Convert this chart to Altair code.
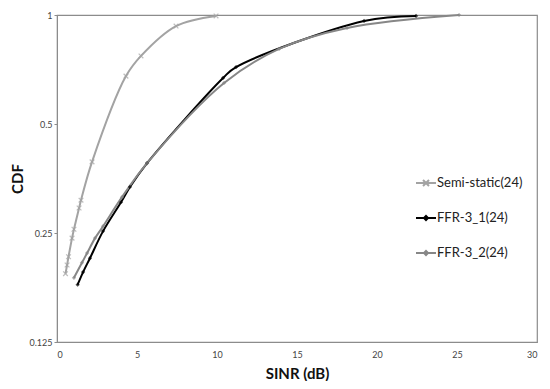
import altair as alt
import pandas as pd

series_names = ["Semi-static(24)", "FFR-3_1(24)", "FFR-3_2(24)"]

ss_x = [0.53, 0.63, 0.72, 0.94, 1.06, 1.38, 1.5, 2.19, 4.31, 5.25, 7.44, 9.94]
ss_y = [0.193, 0.204, 0.215, 0.242, 0.256, 0.293, 0.308, 0.393, 0.678, 0.771, 0.932, 0.994]

f1_x = [1.29, 1.63, 2.06, 2.88, 4.0, 4.56, 5.63, 10.38, 11.19, 19.19, 22.44]
f1_y = [0.180, 0.195, 0.213, 0.253, 0.304, 0.335, 0.390, 0.670, 0.718, 0.963, 0.994]

f2_x = [1.06, 1.56, 1.88, 2.38, 2.88, 4.06, 5.63, 10.44, 13.88, 18.13, 25.13]
f2_y = [0.188, 0.207, 0.220, 0.242, 0.261, 0.314, 0.390, 0.649, 0.806, 0.921, 1.0]

x_ticks = [0, 5, 10, 15, 20, 25, 30]
y_ticks = [0.125, 0.25, 0.5, 1]

colors = ["#a3a3a3", "#000000", "#878787"]

rows = []
for name, xs, ys in zip(series_names, [ss_x, f1_x, f2_x], [ss_y, f1_y, f2_y]):
    for i, (a, b) in enumerate(zip(xs, ys)):
        rows.append({"series": name, "x": a, "y": b, "i": i})
df = pd.DataFrame(rows)

axis_style = dict(grid=False, labelFont="Lato", titleFont="Lato", labelFontSize=9,
                  labelColor="#444", titleFontSize=15, titleFontWeight="bold",
                  titleColor="#111", domainColor="#8c8c8c", tickColor="#8c8c8c")

color_scale = alt.Scale(domain=series_names, range=colors)
xenc = alt.X("x:Q", scale=alt.Scale(domain=[0, 30], nice=False),
             axis=alt.Axis(values=x_ticks, title="SINR (dB)", ticks=False,
                           labelPadding=8, titlePadding=7, **axis_style))
yenc = alt.Y("y:Q", scale=alt.Scale(type="log", base=2, domain=[0.125, 1], nice=False),
             axis=alt.Axis(values=y_ticks, title="CDF", tickSize=3,
                           labelExpr="format(datum.value, '~g')", titleX=-32, **axis_style))

LINE_X = "M-1,0H1M-0.3,-0.3L0.3,0.3M-0.3,0.3L0.3,-0.3"
LINE_D = "M-1,0H1M0,-0.2L0.2,0L0,0.2L-0.2,0Z"

leg = alt.Legend(title=None, orient="none", legendX=358, legendY=157,
                 symbolSize=400, symbolStrokeWidth=2, labelFont="Lato",
                 labelFontSize=13, labelColor="#222", rowPadding=17, labelOffset=0)

lines = alt.Chart(df).mark_line(strokeWidth=2, interpolate="catmull-rom").encode(
    x=xenc, y=yenc,
    color=alt.Color("series:N", scale=color_scale, sort=series_names, legend=leg),
    shape=alt.Shape("series:N", sort=series_names,
                    scale=alt.Scale(domain=series_names, range=[LINE_X, LINE_D, LINE_D]),
                    legend=leg),
    detail="series:N",
    order="i:Q",
)

pts_x = alt.Chart(df[df.series == series_names[0]]).mark_point(
    shape="M-1,-1L1,1M-1,1L1,-1", size=22, strokeWidth=1.2, filled=False, color=colors[0]
).encode(x="x:Q", y="y:Q")

pts_d = alt.Chart(df[df.series != series_names[0]]).mark_point(
    shape="diamond", size=18, filled=True
).encode(x="x:Q", y="y:Q",
         color=alt.Color("series:N", scale=color_scale, legend=None))

chart = alt.layer(lines, pts_x, pts_d).properties(
    width=480, height=327,
    padding={"left": 49, "top": 7, "right": 5, "bottom": 39},
    autosize=alt.AutoSizeParams(type="none"),
).configure(font="Lato").configure_view(stroke="#8c8c8c", strokeWidth=1.2)

chart.save("out.html", embed_options={"renderer": "svg", "actions": False})
